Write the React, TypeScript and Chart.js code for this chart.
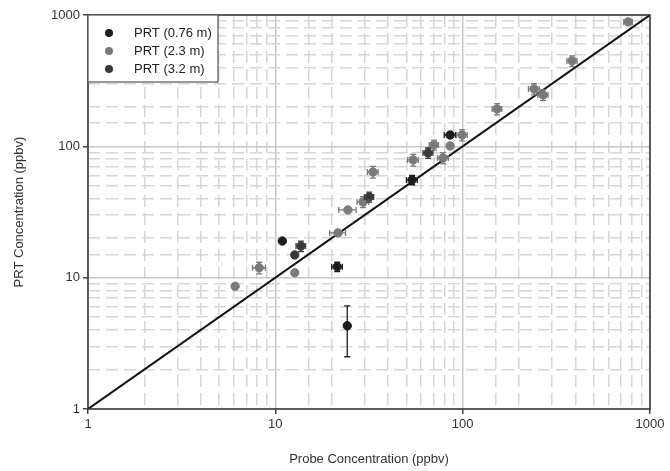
import React, { useEffect, useRef } from "react";
import { Chart, registerables } from "chart.js";

Chart.register(...registerables);

// ---- Data ----
const prt076X = [10.9, 21.4, 24.2, 53.7, 85.7];
const prt076Y = [19.0, 12.1, 4.3, 55.5, 122];
const prt076XErr = [0, 1.4, 0, 3.6, 6];
const prt076YErr = [0, 1.0, 1.8, 4.5, 0];

const prt23X = [6.1, 8.2, 12.7, 21.6, 24.4, 29.4, 33.2, 54.4, 70.3, 78.6, 85.7, 99.3, 152.7, 240.5, 268.7, 383.9, 764];
const prt23Y = [8.6, 11.9, 10.9, 21.9, 32.8, 37.7, 63.8, 78.8, 102.5, 81.6, 100.7, 122, 192.7, 273.6, 246, 447, 886];
const prt23XErr = [0, 0.65, 0, 2.1, 2.6, 2.1, 2.2, 3.6, 4, 5.2, 0, 6.5, 9, 16, 17, 24, 40];
const prt23YErr = [0, 1.2, 0, 0, 0, 3.6, 6.5, 8, 9, 8, 0, 12, 19, 27, 23, 42, 0];

const prt32X = [13.7, 12.7, 31.7, 65.4];
const prt32Y = [17.4, 14.9, 41.2, 89.1];
const prt32XErr = [0.8, 0, 1.8, 4];
const prt32YErr = [1.6, 0, 3.6, 8];

const seriesLabels = ["PRT (0.76 m)", "PRT (2.3 m)", "PRT (3.2 m)"];
const oneToOne = [1, 1000];
const majorTicks = [1, 10, 100, 1000];

const xTitle = "Probe Concentration (ppbv)";
const yTitle = "PRT Concentration (ppbv)";

const FONT = "'Liberation Sans', Arial, sans-serif";

function pts(xs: number[], ys: number[], xe: number[], ye: number[]) {
  return xs.map((x, i) => ({ x, y: ys[i], xErr: xe[i], yErr: ye[i] }));
}

const errorBarPlugin = {
  id: "errorBars",
  afterDatasetsDraw(chart: any) {
    const { ctx, chartArea } = chart;
    const xs = chart.scales.x;
    const ys = chart.scales.y;
    ctx.save();
    ctx.beginPath();
    ctx.rect(chartArea.left, chartArea.top, chartArea.right - chartArea.left, chartArea.bottom - chartArea.top);
    ctx.clip();
    chart.data.datasets.forEach((ds: any) => {
      if (!ds.errorBars) return;
      ctx.strokeStyle = ds.backgroundColor;
      ctx.lineWidth = 1.3;
      const cap = 3;
      ds.data.forEach((p: any) => {
        const px = xs.getPixelForValue(p.x);
        const py = ys.getPixelForValue(p.y);
        if (p.xErr) {
          const x1 = xs.getPixelForValue(p.x - p.xErr);
          const x2 = xs.getPixelForValue(p.x + p.xErr);
          ctx.beginPath();
          ctx.moveTo(x1, py); ctx.lineTo(x2, py);
          ctx.moveTo(x1, py - cap); ctx.lineTo(x1, py + cap);
          ctx.moveTo(x2, py - cap); ctx.lineTo(x2, py + cap);
          ctx.stroke();
        }
        if (p.yErr) {
          const y1 = ys.getPixelForValue(p.y - p.yErr);
          const y2 = ys.getPixelForValue(p.y + p.yErr);
          ctx.beginPath();
          ctx.moveTo(px, y1); ctx.lineTo(px, y2);
          ctx.moveTo(px - cap, y1); ctx.lineTo(px + cap, y1);
          ctx.moveTo(px - cap, y2); ctx.lineTo(px + cap, y2);
          ctx.stroke();
        }
      });
    });
    ctx.restore();
  },
};

const framePlugin = {
  id: "frame",
  afterDraw(chart: any) {
    const { ctx, chartArea: a } = chart;
    ctx.save();
    ctx.strokeStyle = "#333";
    ctx.lineWidth = 1.5;
    ctx.strokeRect(a.left, a.top, a.right - a.left, a.bottom - a.top);
    // legend box
    const lx = a.left, ly = a.top, lw = 130, lh = 67;
    ctx.fillStyle = "#fff";
    ctx.fillRect(lx, ly, lw, lh);
    ctx.strokeStyle = "#555";
    ctx.lineWidth = 1.2;
    ctx.strokeRect(lx, ly, lw, lh);
    const dsets = chart.data.datasets.filter((d: any) => d.errorBars);
    ctx.font = `13px ${FONT}`;
    ctx.textBaseline = "middle";
    ctx.textAlign = "left";
    dsets.forEach((d: any, i: number) => {
      const y = ly + 18 + i * 18;
      ctx.fillStyle = d.backgroundColor;
      ctx.beginPath();
      ctx.arc(lx + 21, y, 4, 0, Math.PI * 2);
      ctx.fill();
      ctx.fillStyle = "#222";
      ctx.fillText(d.label, lx + 46, y);
    });
    ctx.restore();
  },
};

export default function App() {
  const ref = useRef<HTMLCanvasElement | null>(null);
  useEffect(() => {
    if (!ref.current) return;
    const isMajor = (v: number) => majorTicks.includes(Math.round(v * 1000) / 1000);
    const chart = new Chart(ref.current, {
      type: "scatter",
      data: {
        datasets: [
          {
            label: "1:1",
            data: oneToOne.map((v) => ({ x: v, y: v })),
            showLine: true,
            borderColor: "#111",
            borderWidth: 2,
            pointRadius: 0,
            order: 5,
          } as any,
          {
            label: seriesLabels[0],
            data: pts(prt076X, prt076Y, prt076XErr, prt076YErr),
            backgroundColor: "#1c1c1c",
            borderColor: "#1c1c1c",
            pointRadius: 4.2,
            errorBars: true,
            order: 1,
          } as any,
          {
            label: seriesLabels[1],
            data: pts(prt23X, prt23Y, prt23XErr, prt23YErr),
            backgroundColor: "#7a7a7a",
            borderColor: "#7a7a7a",
            pointRadius: 4.2,
            errorBars: true,
            order: 3,
          } as any,
          {
            label: seriesLabels[2],
            data: pts(prt32X, prt32Y, prt32XErr, prt32YErr),
            backgroundColor: "#3a3a3a",
            borderColor: "#3a3a3a",
            pointRadius: 4.2,
            errorBars: true,
            order: 2,
          } as any,
        ],
      },
      options: {
        animation: false,
        responsive: false,
        devicePixelRatio: 1,
        layout: { padding: { left: 0, top: 15, right: 20, bottom: 0 } },
        plugins: {
          legend: { display: false },
          tooltip: { enabled: false },
        },
        scales: {
          x: {
            type: "logarithmic",
            min: 1,
            max: 1000,
            afterFit: (s: any) => { s.height = 62; },
            border: {
              display: false,
              dash: (c: any) => (c.tick && isMajor(c.tick.value) ? [] : [12, 6]),
            },
            grid: {
              color: (c: any) => (c.tick && isMajor(c.tick.value) ? "#c8c8c8" : "#d6d6d6"),
              lineWidth: 1.5,
              tickLength: 5,
              tickColor: (c: any) => (c.tick && isMajor(c.tick.value) ? "#444" : "rgba(0,0,0,0)"),
            },
            ticks: {
              autoSkip: false,
              maxRotation: 0,
              padding: 3,
              color: "#333",
              font: { family: FONT, size: 13 },
              callback: (v: any) => (isMajor(Number(v)) ? String(v) : ""),
            },
            title: {
              display: true,
              text: xTitle,
              color: "#333",
              font: { family: FONT, size: 13 },
              padding: { top: 4, bottom: 4 },
            },
          },
          y: {
            type: "logarithmic",
            min: 1,
            max: 1000,
            afterFit: (s: any) => { s.width = 88; },
            border: {
              display: false,
              dash: (c: any) => (c.tick && isMajor(c.tick.value) ? [] : [12, 6]),
            },
            grid: {
              color: (c: any) => (c.tick && isMajor(c.tick.value) ? "#c8c8c8" : "#d6d6d6"),
              lineWidth: 1.5,
              tickLength: 5,
              tickColor: (c: any) => (c.tick && isMajor(c.tick.value) ? "#444" : "rgba(0,0,0,0)"),
            },
            ticks: {
              autoSkip: false,
              padding: 3,
              color: "#333",
              font: { family: FONT, size: 13 },
              callback: (v: any) => (isMajor(Number(v)) ? String(v) : ""),
            },
            title: {
              display: true,
              text: yTitle,
              color: "#333",
              font: { family: FONT, size: 13 },
              padding: { top: 12, bottom: 4 },
            },
          },
        },
      },
      plugins: [errorBarPlugin, framePlugin],
    } as any);
    return () => chart.destroy();
  }, []);
  return (
    <div style={{ position: "absolute", left: 0, top: 0, width: 670, height: 471, background: "#fff" }}>
      <canvas ref={ref} width={670} height={471} />
    </div>
  );
}
